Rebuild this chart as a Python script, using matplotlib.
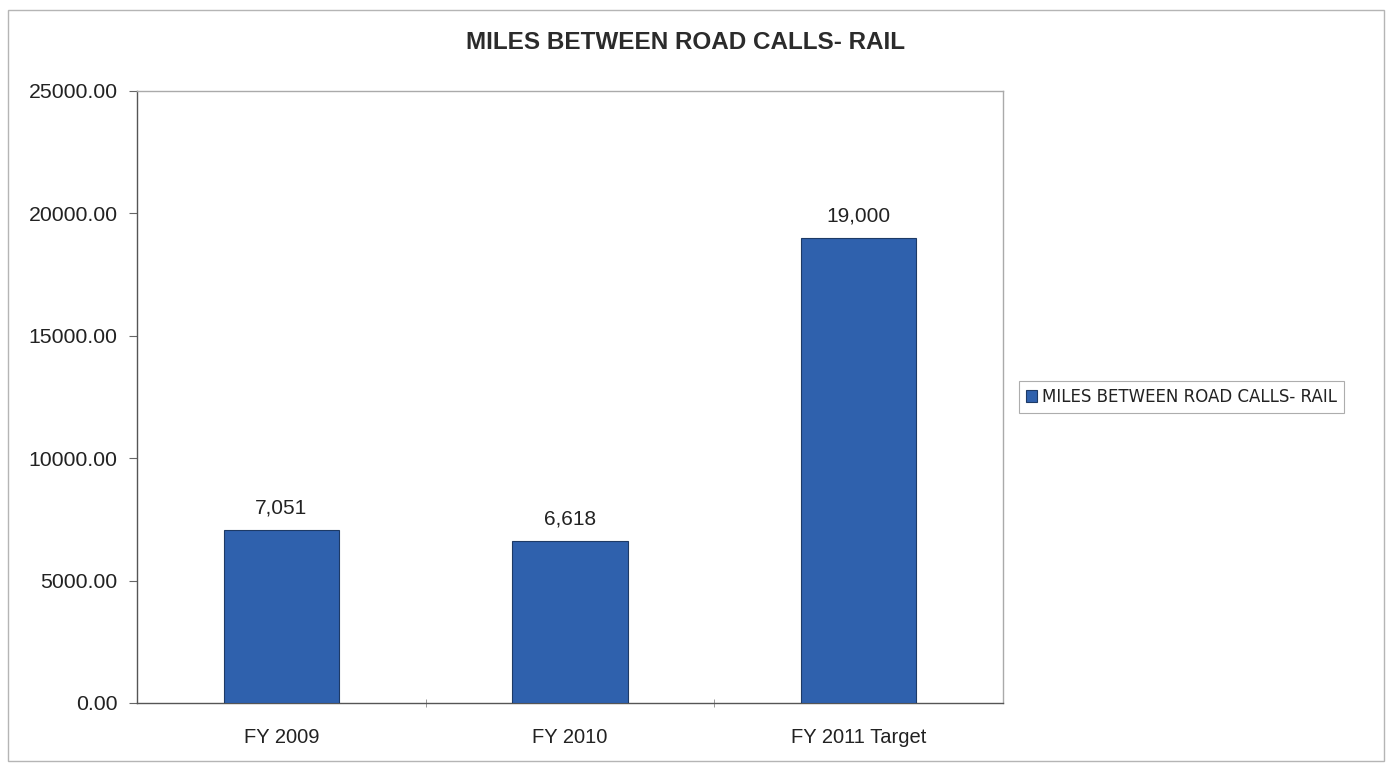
import matplotlib.pyplot as plt
from matplotlib.patches import Rectangle
from matplotlib.ticker import FuncFormatter, FixedLocator

# dados do grafico
categorias = ["FY 2009", "FY 2010", "FY 2011 Target"]
milhas = [7051, 6618, 19000]
rotulos = ["7,051", "6,618", "19,000"]
serie = "MILES BETWEEN ROAD CALLS- RAIL"
ticks_y = [0, 5000, 10000, 15000, 20000, 25000]

plt.rcParams['font.family'] = ['Liberation Sans', 'DejaVu Sans']

fig = plt.figure(figsize=(13.9, 7.64), dpi=100)
ax = fig.add_axes([137/1390, 1-703/764, (1003-137)/1390, (703-91)/764])

x = list(range(len(categorias)))
barras = ax.bar(x, milhas, width=0.40, color="#2f61ad", edgecolor="#1d3a66",
                linewidth=0.8, label=serie, zorder=3)

# rotulos em cima das barras
for b, txt in zip(barras, rotulos):
    ax.annotate(txt, (b.get_x() + b.get_width()/2, b.get_height()),
                xytext=(0, 9), textcoords="offset points",
                ha="center", va="bottom", fontsize=15, color="#222222")

ax.set_xlim(-0.5, 2.5)
ax.set_ylim(0, 25000)
ax.set_yticks(ticks_y)
ax.yaxis.set_major_formatter(FuncFormatter(lambda v, p: "%.2f" % v))
ax.set_xticks(x)
ax.set_xticklabels(categorias)
ax.xaxis.set_minor_locator(FixedLocator([0.5, 1.5]))
ax.tick_params(axis="x", which="major", length=0, pad=18, labelsize=14.5, labelcolor="#222222")
ax.tick_params(axis="x", which="minor", length=6, color="#888888", direction="inout")
ax.tick_params(axis="y", length=6, color="#666666", pad=8, labelsize=15.3, labelcolor="#222222")

for lado in ["left", "bottom"]:
    ax.spines[lado].set_color("#555555")
    ax.spines[lado].set_linewidth(1.0)
for lado in ["top", "right"]:
    ax.spines[lado].set_color("#aaaaaa")
    ax.spines[lado].set_linewidth(1.0)

fig.text(0.493, 0.945, serie, ha="center", va="center", fontsize=17.5,
         fontweight="bold", color="#2b2b2b")

leg = fig.legend(loc="center left", bbox_to_anchor=(1019/1390, 1-397/764),
                 frameon=True, fancybox=False, edgecolor="#999999",
                 handlelength=0.7, handleheight=0.7, handletextpad=0.3,
                 borderpad=0.4, borderaxespad=0,
                 prop={"family": "DejaVu Sans", "size": 12})
leg.get_frame().set_linewidth(0.8)
for t in leg.get_texts():
    t.set_color("#222222")

# moldura externa da area do grafico
fig.patches.append(Rectangle((8/1390, 1-761/764), (1384-8)/1390, (761-10)/764,
                             transform=fig.transFigure, fill=False,
                             edgecolor="#b5b5b5", linewidth=1.0))

fig.savefig("out.png", dpi=100)
